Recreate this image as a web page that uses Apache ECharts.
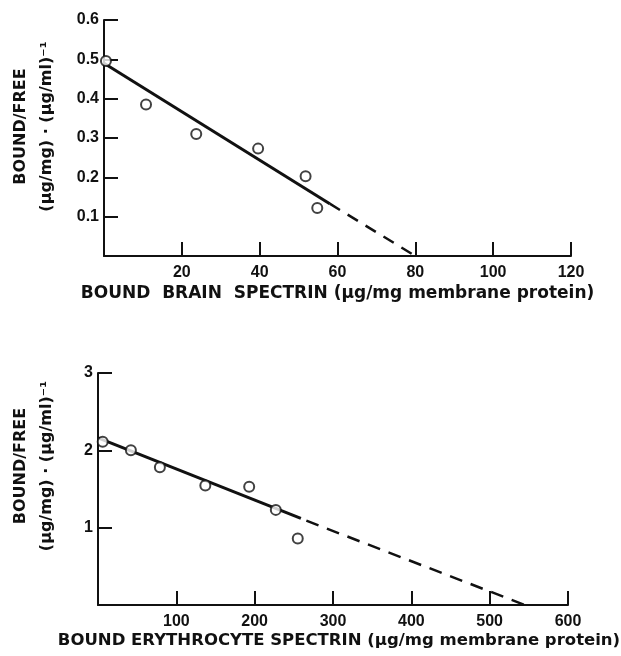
<!DOCTYPE html>
<html>
<head>
<meta charset="utf-8">
<script src="https://cdn.jsdelivr.net/npm/echarts@6/dist/echarts.min.js"></script>
<style>
  html, body { margin: 0; padding: 0; background: #fff; }
  #chart { width: 621px; height: 656px; }
</style>
</head>
<body>
<div id="chart"></div>
<script>
// brain spectrin (top panel)
var brainX = [0.5, 10.8, 23.7, 39.6, 51.8, 54.8];
var brainY = [0.496, 0.385, 0.31, 0.273, 0.203, 0.122];
var brainFitSolid = [[0, 0.49], [58, 0.133]];
var brainFitDash = [[58, 0.133], [80, 0]];
var brainXTicks = [20, 40, 60, 80, 100, 120];
var brainYTicks = [0.1, 0.2, 0.3, 0.4, 0.5, 0.6];

// erythrocyte spectrin (bottom panel)
var eryX = [6, 42, 79, 137, 193, 227, 255];
var eryY = [2.11, 2.0, 1.78, 1.545, 1.53, 1.23, 0.86];
var eryFitSolid = [[0, 2.16], [259, 1.12]];
var eryFitDash = [[266, 1.09], [545, 0]];
var eryXTicks = [100, 200, 300, 400, 500, 600];
var eryYTicks = [1, 2, 3];

var ink = '#111';
var font = 'Liberation Sans';
var titleFont = 'DejaVu Sans';
var yName = 'BOUND/FREE\n(µg/mg) · (µg/ml)⁻¹';

function pairs(xs, ys) {
  return xs.map(function (x, i) { return [x, ys[i]]; });
}

function pick(ticks) {
  return function (v) {
    for (var i = 0; i < ticks.length; i++) {
      if (Math.abs(ticks[i] - v) < 1e-9) return String(ticks[i]);
    }
    return '';
  };
}

function xAxisCfg(grid, max, step, ticks, name, gap, size, pad) {
  return {
    type: 'value', gridIndex: grid, min: 0, max: max, interval: step,
    name: name, nameLocation: 'middle', nameGap: gap,
    nameTextStyle: { color: ink, fontFamily: titleFont, fontWeight: 'bold', fontSize: size, padding: pad },
    axisLine: { lineStyle: { color: ink, width: 2 } },
    axisTick: { inside: true, length: 14, lineStyle: { color: ink, width: 2 } },
    axisLabel: { color: ink, fontFamily: font, fontWeight: 'bold', fontSize: 16, margin: 9, formatter: pick(ticks) },
    splitLine: { show: false }
  };
}

function yAxisCfg(grid, max, step, ticks, gap, shift) {
  return {
    type: 'value', gridIndex: grid, min: 0, max: max, interval: step,
    name: yName, nameLocation: 'middle', nameGap: gap, nameRotate: 90,
    nameTextStyle: {
      color: ink, fontFamily: titleFont, fontWeight: 'bold', fontSize: 16, lineHeight: 26,
      padding: [0, 0, 0, shift]
    },
    axisLine: { lineStyle: { color: ink, width: 2 } },
    axisTick: { inside: true, length: 14, lineStyle: { color: ink, width: 2 } },
    axisLabel: { color: ink, fontFamily: font, fontWeight: 'bold', fontSize: 16, margin: 5, formatter: pick(ticks) },
    splitLine: { show: false }
  };
}

function pointsSeries(grid, data) {
  return {
    type: 'scatter', xAxisIndex: grid, yAxisIndex: grid, data: data,
    symbol: 'circle', symbolSize: 10, z: 5,
    itemStyle: { color: '#fff', borderColor: ink, borderWidth: 2 }
  };
}

function fitSeries(grid, data, dash) {
  return {
    type: 'line', xAxisIndex: grid, yAxisIndex: grid, data: data,
    symbol: 'none', silent: true,
    lineStyle: { color: ink, width: dash ? 2.5 : 3, type: dash || 'solid' }
  };
}

var chart = echarts.init(document.getElementById('chart'));
chart.setOption({
  backgroundColor: '#fff',
  animation: false,
  grid: [
    { left: 104, top: 20, width: 467, height: 236, containLabel: false, outerBoundsMode: 'none' },
    { left: 98, top: 373, width: 470, height: 232, containLabel: false, outerBoundsMode: 'none' }
  ],
  xAxis: [
    xAxisCfg(0, 120, 20, brainXTicks, 'BOUND  BRAIN  SPECTRIN (µg/mg membrane protein)', 29, 17, [0, 0, 0, 0]),
    xAxisCfg(1, 600, 100, eryXTicks, 'BOUND ERYTHROCYTE SPECTRIN (µg/mg membrane protein)', 27, 16.5, [0, 0, 0, 12])
  ],
  yAxis: [
    yAxisCfg(0, 0.6, 0.1, brainYTicks, 44, 23),
    yAxisCfg(1, 3, 1, eryYTicks, 38, 46)
  ],
  series: [
    fitSeries(0, brainFitSolid, null),
    fitSeries(0, brainFitDash, [12, 9]),
    pointsSeries(0, pairs(brainX, brainY)),
    fitSeries(1, eryFitSolid, null),
    fitSeries(1, eryFitDash, [13, 9]),
    pointsSeries(1, pairs(eryX, eryY))
  ]
});
</script>
</body>
</html>
